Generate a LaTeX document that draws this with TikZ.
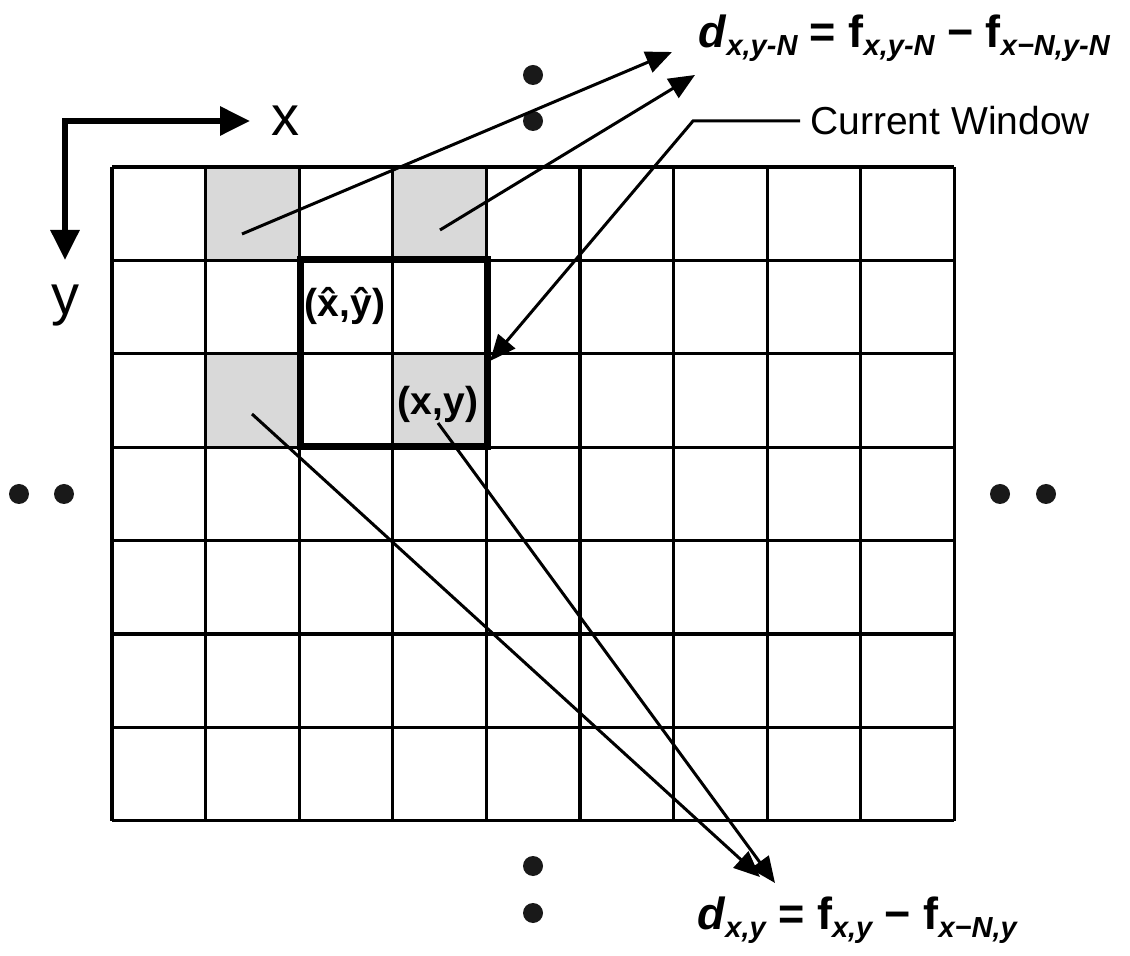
\documentclass[tikz,border=0pt]{standalone}
\usepackage{fontspec}
\setmainfont{Liberation Sans}
\usetikzlibrary{arrows.meta}

% --- Makros fuer Indizes ---
\newcommand{\idx}[1]{\raisebox{-0.35ex}{\fontsize{14.5}{15}\selectfont\bfseries\itshape #1}}

\begin{document}
\begin{tikzpicture}[x=0.5pt, y=-0.5pt,
  cellfill/.style={fill=black!15},
  gridline/.style={line width=1.6pt},
  winbox/.style={line width=3.5pt},
  pointer/.style={line width=1.5pt, -{Triangle[length=13pt,width=11pt]}},
  axisline/.style={line width=3pt, {Triangle[length=15pt,width=14pt]}-{Triangle[length=15pt,width=14pt]}},
  dot/.style={circle, fill=black!90, minimum size=10pt, inner sep=0pt},
  eqlabel/.style={font=\fontsize{22.5}{25}\selectfont\bfseries, inner sep=0pt},
  plainlabel/.style={font=\fontsize{19.5}{22}\selectfont, inner sep=0pt},
  celllabel/.style={font=\fontsize{19.5}{22}\selectfont\bfseries, inner sep=0pt}]

  \useasboundingbox (0,0) rectangle (1130,956);

  % --- Schattierte Zellen ---
  \fill[cellfill] (206,167) rectangle (300,260);
  \fill[cellfill] (393,167) rectangle (487,260);
  \fill[cellfill] (206,354) rectangle (300,447);
  \fill[cellfill] (393,354) rectangle (487,447);

  % --- Gitter (9 x 7) ---
  \foreach \i in {0,...,9} {
    \draw[gridline] ({112+\i*93.6},167) -- ({112+\i*93.6},821);
  }
  \foreach \j in {0,...,7} {
    \draw[gridline] (112,{167+\j*93.4}) -- (954.4,{167+\j*93.4});
  }

  % --- Aktuelles Fenster ---
  \draw[winbox] (300,260) rectangle (487,447);

  % --- Achsen ---
  \draw[axisline] (250,121) -- (65,121) -- (65,260);
  \node[plainlabel, font=\fontsize{28}{30}\selectfont] (xlab) at (285,121) {x};
  \node[plainlabel, font=\fontsize{28}{30}\selectfont] (ylab) at (65,306) {y};

  % --- Punkte ---
  \node[dot] (dotl1) at (19,494) {};
  \node[dot] (dotl2) at (64,494) {};
  \node[dot] (dotr1) at (1000,494) {};
  \node[dot] (dotr2) at (1046,494) {};
  \node[dot] (dott1) at (533,75) {};
  \node[dot] (dott2) at (533,121) {};
  \node[dot] (dotb1) at (533,866) {};
  \node[dot] (dotb2) at (533,913) {};

  % --- Zellbeschriftungen ---
  \node[celllabel] (hatxy) at (345,306) {(\^x,\^y)};
  \node[celllabel] (curxy) at (438,404) {(x,y)};

  % --- Gleichungen ---
  \node[eqlabel] (eqtop) at (904,38)
    {\textit{d}\idx{x,y-N} = f\idx{x,y-N} − f\idx{x−N,y-N}};
  \node[eqlabel] (eqbot) at (857,920)
    {\textit{d}\idx{x,y} = f\idx{x,y} − f\idx{x−N,y}};
  \node[plainlabel, anchor=west] (curwin) at (810,121) {Current Window};

  % --- Pfeile ---
  \coordinate (srcA) at (242,234);
  \coordinate (srcB) at (440,230);
  \coordinate (srcC) at (252,414);
  \coordinate (srcD) at (438,423);
  \coordinate (tipA) at (672,52);
  \coordinate (tipB) at (695,75);
  \coordinate (tipC) at (760,877);
  \coordinate (tipD) at (775,883);
  \coordinate (winbend) at (693,121);
  \coordinate (wintip) at (490,361);

  \draw[pointer] (srcA) -- (tipA);
  \draw[pointer] (srcB) -- (tipB);
  \draw[pointer] (srcC) -- (tipC);
  \draw[pointer] (srcD) -- (tipD);
  \draw[pointer] ([xshift=-5pt]curwin.west) -- (winbend) -- (wintip);

\end{tikzpicture}
\end{document}
